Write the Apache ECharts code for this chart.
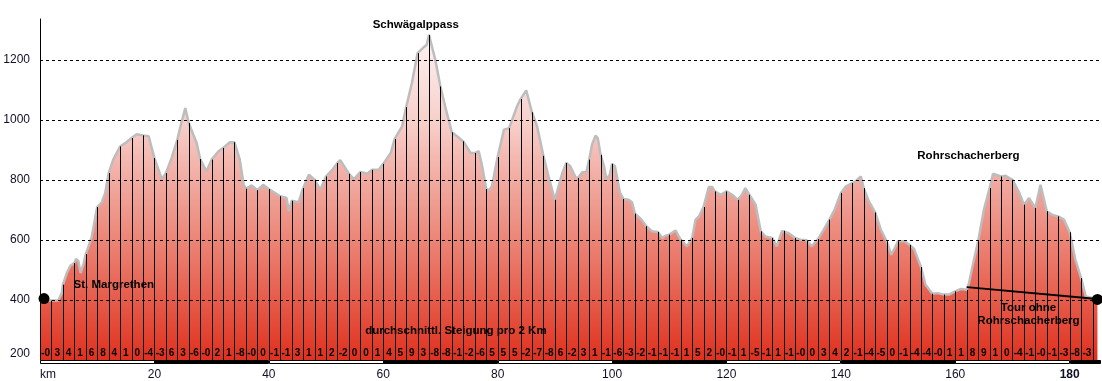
<!DOCTYPE html>
<html><head><meta charset="utf-8">
<script src="https://cdn.jsdelivr.net/npm/echarts@6/dist/echarts.min.js"></script>
<style>html,body{margin:0;padding:0;background:#fff}#c{width:1102px;height:381px}</style>
</head><body><div id="c"></div>
<script>
// Elevation profile (km along route, metres)
const PROFILE_KM = [0,1,2,3.2,3.8,4,4.7,5.3,6,6.3,6.7,7.1,7.6,8,9,10,10.8,11.4,12,12.8,14,14.9,16,16.9,18,19,20,21.3,22,23,24,24.7,25.4,26,27.4,28,29.1,30,31.2,32,33.2,34,34.9,35.6,36,37,38,39,40,41.1,42,43.1,43.5,44,45.2,46,47,48,49,50,51,52,52.5,54,54.9,56,57.2,58,59.2,60,61.3,62,63.3,64,65,66,67.1,67.6,68,69.1,70,70.9,72,72.9,74,75.3,76,76.7,77.3,78,78.5,79,80,81.1,82,83.4,84,85,86,86.9,88,88.9,90,91.3,92,92.7,93.6,94,94.8,95.5,96,96.5,97.1,97.5,98,98.6,99,99.6,100,100.5,100.9,101.4,102,102.9,103.5,104,105,106,107,108,108.8,109.3,110,111.1,112,113.1,114,114.6,115.2,116,116.9,117.5,118,119,120,121,122,122.7,123.3,124,125.1,125.6,126,126.8,128,128.8,129.7,130,130.9,132,132.9,134,134.9,136,137,138,138.9,140,140.9,142,142.6,143.5,144,144.9,146,147,148,148.8,149.3,150,151.1,152,152.8,154,154.8,156,156.9,158,158.9,160,161,162,162.4,163,164,165,166,166.6,168,168.8,170,171.2,172,172.9,174,174.9,176,177,178,179,180,181,182,182.8,184,184.85];
const PROFILE_ELEV = [400,398,398,398,423,451,490,514,523,537,530,490,520,553,607,710,726,757,823,868,912,923,940,953,949,946,873,803,823,873,934,990,1040,990,923,870,829,868,896,907,926,926,870,785,771,782,766,784,770,757,746,740,696,731,726,773,818,801,768,812,832,857,866,821,803,827,821,834,834,854,890,937,979,1043,1123,1223,1243,1251,1284,1201,1112,1040,959,946,929,890,890,896,846,770,766,779,877,968,973,1046,1070,1099,1026,979,881,812,734,823,857,846,810,807,826,826,868,918,948,940,884,846,803,818,854,846,807,757,737,734,726,688,671,646,629,627,607,614,618,632,601,579,607,668,679,710,777,777,762,751,762,751,734,751,773,751,718,668,629,612,607,579,630,631,623,607,601,599,579,603,634,668,701,757,779,790,796,812,773,729,692,634,596,551,568,596,596,584,570,510,451,421,423,418,418,429,437,434,457,512,596,701,773,821,812,814,801,757,718,740,707,784,696,684,679,668,626,534,473,412,407,401];

// Average gradient (%) for each 2 km section
const GRADIENTS = ["-0","3","4","1","6","8","4","1","0","-4","-3","6","3","-6","-0","2","1","-8","-0","0",
  "-1","-1","3","1","1","2","-2","0","0","1","4","5","9","3","-8","-8","-1","-2","-6","5","5","5","-2","-7","-8",
  "6","-2","3","1","-1","-6","-3","-2","-1","-1","-1","1","5","2","-0","-1","1","-5","-1","1","-1","-0","0",
  "3","4","2","-1","-4","-5","0","-1","-4","-4","-0","1","1","8","9","1","0","-4","-1","-0","-1","-3","-8","-3"];

const KM_MAX = 185.3;
const KM_BANDS = [[0,20],[20,40],[40,60],[60,80],[80,100],[100,120],[120,140],[140,160],[160,180],[180,185.3]];
const ENDPOINTS = [[0.7,405],[184.85,402]];
const TOUR_OHNE = [[162,443],[184.85,403]];
const ANNOTATIONS = [
  {km:65.7, elev:1319, text:"Schwägalppass"},
  {km:12.9, elev:450, text:"St. Margrethen"},
  {km:162.3, elev:881, text:"Rohrschacherberg"},
  {km:172.8, elev:352, text:"Tour ohne\nRohrschacherberg"},
  {km:72.7, elev:297, text:"durchschnittl. Steigung pro 2 Km"}
];
const Y_MIN = 200, Y_MAX = 1337;

const profile = PROFILE_KM.map((k,i)=>[k, PROFILE_ELEV[i]]);
const marks = profile.filter(p => p[0] > 0 && Number.isInteger(p[0]) && p[0] % 2 === 0);

const chart = echarts.init(document.getElementById('c'), null, {renderer:'canvas'});
const FONT = '"Liberation Sans", Arial, sans-serif';
chart.setOption({
  animation:false,
  backgroundColor:'#fff',
  grid:{left:40, right:2, top:19, bottom:21, containLabel:false},
  xAxis:{type:'value', min:0, max:KM_MAX, interval:20,
    axisLine:{show:false}, axisTick:{show:false}, splitLine:{show:false},
    axisLabel:{margin:9, fontFamily:FONT, fontSize:12, color:'#101028', showMaxLabel:false, alignMinLabel:'left',
      formatter: v => v === 0 ? 'km' : (v === 180 ? '{b|180}' : String(v)),
      rich:{b:{fontWeight:'bold', fontFamily:FONT, fontSize:12, color:'#101028'}}}},
  yAxis:{type:'value', min:Y_MIN, max:Y_MAX, interval:200, z:5,
    axisLine:{show:true, lineStyle:{color:'#000', width:1}}, axisTick:{show:false},
    splitLine:{show:true, showMinLine:false, showMaxLine:false, lineStyle:{color:'#000', type:[3,3], width:1}},
    axisLabel:{margin:10, fontFamily:FONT, fontSize:12, color:'#101028', showMaxLabel:false, verticalAlignMinLabel:'bottom',
      formatter: v => String(v)}},
  series:[
    {type:'line', data:profile, showSymbol:false, symbol:'none', z:2, silent:true,
      lineStyle:{color:'#bdbdbd', width:2.5},
      areaStyle:{origin:'start', opacity:1, color:new echarts.graphic.LinearGradient(0,0,0,1,[
        {offset:0, color:'#fdf3f2'},{offset:0.27, color:'#f7cfc9'},{offset:0.45, color:'#f1aaa1'},
        {offset:0.63, color:'#ec8577'},{offset:0.82, color:'#e65a49'},{offset:1, color:'#e0301e'}])}},
    {type:'custom', z:3, silent:true, data:marks,
      renderItem:(params, api) => {
        const b = api.coord([api.value(0), Y_MIN]);
        const t = api.coord([api.value(0), api.value(1)]);
        const x = Math.round(b[0]) + 0.5;
        return {type:'line', shape:{x1:x, y1:b[1], x2:x, y2:t[1]}, style:{stroke:'#000', lineWidth:1}};
      }},
    {type:'custom', z:4, silent:true, data:GRADIENTS.map((g,i)=>[i*2+1, Y_MIN]),
      renderItem:(params, api) => {
        const p = api.coord([api.value(0), api.value(1)]);
        return {type:'text', x:p[0], y:p[1]-7, style:{text:GRADIENTS[params.dataIndex], textAlign:'center', textVerticalAlign:'middle',
          font:'bold 10px ' + FONT, fill:'#000'}};
      }},
    {type:'custom', z:4, silent:true, clip:false, data:KM_BANDS.map(b=>[b[0], b[1], Y_MIN]), encode:{x:[0,1], y:2},
      renderItem:(params, api) => {
        const s = api.coord([api.value(0), api.value(2)]);
        const e = api.coord([api.value(1), api.value(2)]);
        return {type:'rect', shape:{x:Math.round(s[0])+0.5, y:Math.round(s[1])+0.5, width:Math.round(e[0]-s[0]), height:3},
          style:{fill: params.dataIndex % 2 ? '#000' : '#fff', stroke:'#000', lineWidth:1}};
      }},
    {type:'line', data:TOUR_OHNE, showSymbol:false, symbol:'none', z:5, silent:true, lineStyle:{color:'#000', width:2}},
    {type:'scatter', data:ENDPOINTS, symbol:'circle', symbolSize:11, z:6, silent:true, itemStyle:{color:'#000', opacity:1}},
    {type:'custom', z:7, silent:true, data:ANNOTATIONS.map(a=>[a.km, a.elev]),
      renderItem:(params, api) => {
        const p = api.coord([api.value(0), api.value(1)]);
        return {type:'text', x:p[0], y:p[1], style:{text:ANNOTATIONS[params.dataIndex].text, textAlign:'center', textVerticalAlign:'middle',
          font:'bold 11.5px ' + FONT, fill:'#000', lineHeight:13}};
      }}
  ]
});
</script>
</body></html>
